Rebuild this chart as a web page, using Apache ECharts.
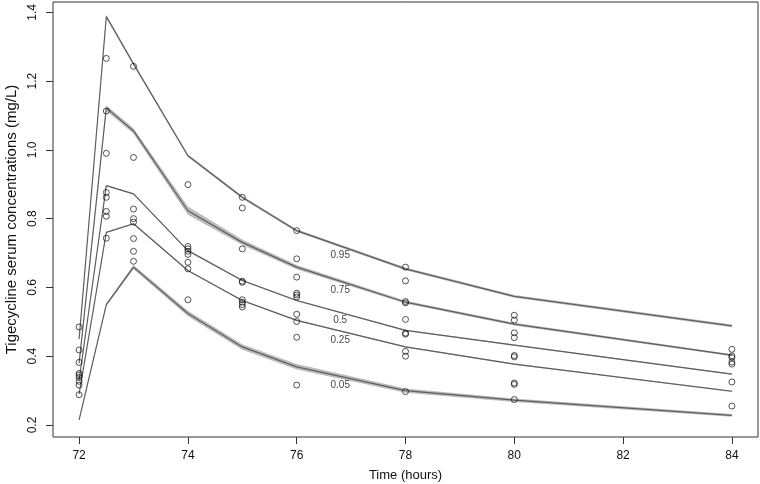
<!DOCTYPE html>
<html>
<head>
<meta charset="utf-8">
<script src="https://cdn.jsdelivr.net/npm/echarts@6/dist/echarts.min.js"></script>
<style>html,body{margin:0;padding:0;background:#fff}#c{width:760px;height:484px}</style>
</head>
<body>
<div id="c"></div>
<script>
// ---- data ----
const times = [72, 72.5, 73, 74, 75, 76, 78, 80, 84];
const q05 = [0.215, 0.550, 0.659, 0.524, 0.427, 0.369, 0.300, 0.272, 0.228];
const q25 = [0.290, 0.760, 0.785, 0.649, 0.562, 0.504, 0.427, 0.377, 0.298];
const q50 = [0.330, 0.896, 0.872, 0.707, 0.620, 0.562, 0.475, 0.432, 0.348];
const q75 = [0.380, 1.122, 1.055, 0.823, 0.731, 0.659, 0.557, 0.493, 0.403];
const q95 = [0.450, 1.388, 1.250, 0.983, 0.862, 0.765, 0.654, 0.574, 0.488];
// half-widths of the grey uncertainty bands
const w05 = [0.002, 0.004, 0.006, 0.008, 0.008, 0.008, 0.006, 0.005, 0.004];
const w25 = [0.001, 0.002, 0.002, 0.002, 0.002, 0.002, 0.002, 0.002, 0.002];
const w50 = [0.001, 0.002, 0.002, 0.002, 0.002, 0.002, 0.002, 0.002, 0.002];
const w75 = [0.002, 0.008, 0.008, 0.012, 0.008, 0.006, 0.004, 0.004, 0.003];
const w95 = [0.002, 0.005, 0.004, 0.004, 0.004, 0.004, 0.004, 0.004, 0.004];

// observed concentrations per sampling time
const obsTimes = [72, 72.5, 73, 74, 75, 76, 78, 80, 84];
const obs72  = [0.485, 0.418, 0.382, 0.350, 0.345, 0.338, 0.327, 0.316, 0.288];
const obs725 = [1.266, 1.113, 0.990, 0.876, 0.862, 0.821, 0.807, 0.743];
const obs73  = [1.243, 0.978, 0.828, 0.800, 0.790, 0.742, 0.705, 0.676];
const obs74  = [0.899, 0.719, 0.712, 0.705, 0.696, 0.673, 0.654, 0.564];
const obs75  = [0.862, 0.831, 0.712, 0.618, 0.615, 0.564, 0.557, 0.550, 0.543];
const obs76  = [0.765, 0.683, 0.630, 0.583, 0.578, 0.572, 0.522, 0.501, 0.455, 0.316];
const obs78  = [0.659, 0.619, 0.559, 0.555, 0.507, 0.467, 0.464, 0.414, 0.400, 0.297];
const obs80  = [0.519, 0.505, 0.468, 0.454, 0.402, 0.398, 0.322, 0.318, 0.274];
const obs84  = [0.420, 0.401, 0.396, 0.383, 0.377, 0.325, 0.255];
const obsByTime = [obs72, obs725, obs73, obs74, obs75, obs76, obs78, obs80, obs84];

const labelText = ['0.95', '0.75', '0.5', '0.25', '0.05'];
const labelX = [76.8, 76.8, 76.8, 76.8, 76.8];
const labelY = [0.693, 0.591, 0.504, 0.446, 0.315];

const xTicks = [72, 74, 76, 78, 80, 82, 84];
const yTicks = [0.2, 0.4, 0.6, 0.8, 1.0, 1.2, 1.4];

// ---- build ----
const FONT = '"Liberation Sans", Arial, Helvetica, sans-serif';
const quant = [[q95, w95], [q75, w75], [q50, w50], [q25, w25], [q05, w05]];

const obsData = [];
obsTimes.forEach((t, i) => obsByTime[i].forEach(v => obsData.push([t, v])));

const series = [];
quant.forEach(([q, w]) => {
  series.push({
    type: 'custom',
    clip: true,
    silent: true,
    z: 1,
    data: [[times[0], q[0]]],
    renderItem: function (params, api) {
      if (params.dataIndex !== 0) return null;
      const up = times.map((t, i) => api.coord([t, q[i] + w[i]]));
      const lo = times.map((t, i) => api.coord([t, q[i] - w[i]])).reverse();
      return { type: 'polygon', shape: { points: up.concat(lo) }, style: { fill: '#bcbcbc', stroke: null } };
    }
  });
  series.push({
    type: 'line',
    z: 2,
    symbol: 'none',
    silent: true,
    data: times.map((t, i) => [t, q[i]]),
    lineStyle: { color: '#5e5e5e', width: 1.2 }
  });
});
series.push({
  type: 'scatter',
  z: 3,
  symbol: 'circle',
  symbolSize: 6,
  data: obsData,
  itemStyle: { color: 'rgba(0,0,0,0)', borderColor: '#111', borderWidth: 0.9 }
});
series.push({
  type: 'scatter',
  z: 4,
  symbolSize: 0,
  data: labelText.map((s, i) => [labelX[i], labelY[i], s]),
  label: {
    show: true, position: 'inside', formatter: p => p.value[2],
    color: '#111', fontSize: 10, fontFamily: FONT
  }
});

const chart = echarts.init(document.getElementById('c'), null, { renderer: 'canvas' });
chart.setOption({
  animation: false,
  backgroundColor: '#fff',
  grid: { left: 53, right: 2, top: 2, bottom: 47, containLabel: false, outerBoundsMode: 'none',
    show: true, borderColor: '#333', borderWidth: 1, backgroundColor: 'transparent' },
  xAxis: {
    type: 'value', min: 71.52, max: 84.48,
    name: 'Time (hours)', nameLocation: 'middle', nameGap: 32,
    nameTextStyle: { color: '#111', fontSize: 13, fontFamily: FONT },
    axisLine: { show: false },
    splitLine: { show: false },
    axisTick: { show: true, length: 7, customValues: xTicks, lineStyle: { color: '#333' } },
    axisLabel: { customValues: xTicks, margin: 13, color: '#111', fontSize: 12, fontFamily: FONT }
  },
  yAxis: {
    type: 'value', min: 0.165, max: 1.43,
    name: 'Tigecycline serum concentrations (mg/L)', nameLocation: 'middle', nameGap: 34,
    nameTextStyle: { color: '#111', fontSize: 15, fontFamily: FONT },
    axisLine: { show: false },
    splitLine: { show: false },
    axisTick: { show: true, length: 7, customValues: yTicks, lineStyle: { color: '#333' } },
    axisLabel: { customValues: yTicks, rotate: 90, margin: 14, color: '#111', fontSize: 12, fontFamily: FONT,
      formatter: v => v.toFixed(1) }
  },
  series: series
});
</script>
</body>
</html>
